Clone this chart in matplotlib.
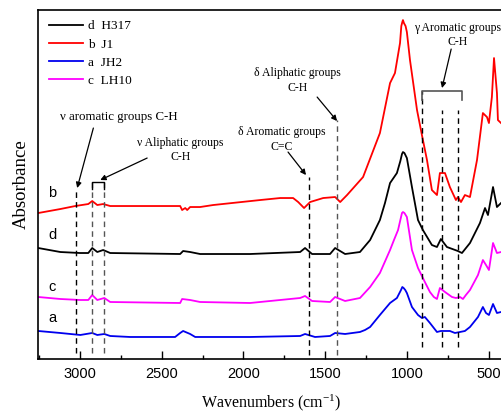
import matplotlib.pyplot as plt
from matplotlib.ticker import MultipleLocator, NullLocator

plt.rcParams['mathtext.fontset'] = 'custom'
plt.rcParams['mathtext.rm'] = 'Liberation Serif'
plt.rcParams['mathtext.it'] = 'Liberation Serif:italic'

# FTIR spectra, stacked with offsets (absorbance in arbitrary units)
wn_b = [3255, 3120, 3029, 2949, 2925, 2894, 2858, 2815, 2570, 2387, 2375, 2356, 2344, 2326,
        2265, 2185, 1897, 1775, 1696, 1665, 1629, 1592, 1512, 1439, 1408, 1366, 1268, 1165,
        1103, 1073, 1042, 1034, 1028, 1024, 1018, 1008, 1000, 981, 938, 908, 877, 847, 816,
        798, 767, 737, 700, 688, 669, 645, 614, 571, 535, 510, 498, 480, 467, 449, 443, 424]
ab_b = [1.46, 1.50, 1.53, 1.55, 1.58, 1.54, 1.55, 1.53, 1.53, 1.53, 1.49, 1.51, 1.49, 1.52,
        1.52, 1.54, 1.59, 1.61, 1.61, 1.57, 1.51, 1.57, 1.61, 1.62, 1.57, 1.64, 1.82, 2.26,
        2.76, 2.86, 3.16, 3.33, 3.37, 3.39, 3.36, 3.33, 3.27, 2.99, 2.49, 2.24, 1.99, 1.69,
        1.64, 1.86, 1.86, 1.72, 1.59, 1.62, 1.57, 1.64, 1.62, 1.99, 2.46, 2.42, 2.36, 2.62,
        3.01, 2.66, 2.39, 2.36]

wn_d = [3255, 3120, 3000, 2949, 2925, 2894, 2858, 2815, 2387, 2369, 2326, 2265, 1959, 1653,
        1623, 1580, 1470, 1439, 1378, 1287, 1225, 1165, 1134, 1103, 1061, 1040, 1030, 1024,
        1015, 1000, 969, 932, 902, 847, 816, 792, 755, 688, 663, 614, 553, 522, 504, 473,
        449, 424]
ab_d = [1.11, 1.07, 1.06, 1.06, 1.11, 1.07, 1.09, 1.06, 1.05, 1.08, 1.07, 1.05, 1.05, 1.07,
        1.11, 1.05, 1.05, 1.11, 1.05, 1.07, 1.19, 1.39, 1.56, 1.76, 1.86, 1.98, 2.05, 2.07,
        2.06, 2.01, 1.72, 1.39, 1.29, 1.14, 1.12, 1.20, 1.12, 1.08, 1.06, 1.16, 1.36, 1.51,
        1.44, 1.72, 1.52, 1.56]

wn_c = [3255, 3120, 2998, 2949, 2925, 2894, 2851, 2815, 2387, 2375, 2326, 2265, 1959, 1653,
        1623, 1580, 1470, 1439, 1378, 1287, 1225, 1165, 1103, 1079, 1054, 1040, 1030, 1024,
        1015, 1000, 969, 932, 890, 859, 835, 816, 798, 767, 724, 700, 675, 657, 639, 614,
        565, 535, 516, 498, 473, 449, 424]
ab_c = [0.62, 0.60, 0.59, 0.59, 0.64, 0.59, 0.61, 0.57, 0.56, 0.60, 0.59, 0.57, 0.56, 0.61,
        0.63, 0.58, 0.57, 0.62, 0.58, 0.61, 0.72, 0.86, 1.09, 1.19, 1.29, 1.39, 1.46, 1.47,
        1.46, 1.42, 1.09, 0.91, 0.77, 0.67, 0.62, 0.60, 0.71, 0.67, 0.62, 0.61, 0.62, 0.60,
        0.64, 0.69, 0.84, 0.99, 0.94, 0.89, 1.16, 1.06, 1.07]

wn_a = [3255, 3120, 2998, 2925, 2894, 2851, 2815, 2693, 2418, 2387, 2369, 2326, 2295, 1959,
        1653, 1623, 1562, 1470, 1439, 1378, 1287, 1256, 1225, 1165, 1103, 1061, 1036, 1028,
        1020, 1010, 1000, 969, 932, 908, 890, 859, 816, 792, 737, 706, 675, 645, 614, 565,
        535, 516, 498, 473, 449, 424]
ab_a = [0.28, 0.26, 0.24, 0.26, 0.24, 0.25, 0.23, 0.22, 0.22, 0.26, 0.28, 0.25, 0.22, 0.22,
        0.23, 0.25, 0.22, 0.23, 0.26, 0.25, 0.27, 0.29, 0.32, 0.44, 0.56, 0.61, 0.69, 0.72,
        0.71, 0.69, 0.66, 0.52, 0.44, 0.41, 0.42, 0.36, 0.27, 0.28, 0.28, 0.26, 0.27, 0.28,
        0.32, 0.42, 0.52, 0.46, 0.44, 0.55, 0.46, 0.47]

# band markers: wavenumber, extent of dashed line, colour
band_wn = [3022, 2927, 2853, 1598, 1428, 910, 788, 686]
band_top = [1.69, 1.77, 1.77, 1.82, 2.39, 2.68, 2.49, 2.49]
band_bot = [0.06, 0.06, 0.06, 0.04, 0.04, 0.12, 0.12, 0.12]
band_col = ['black', '#555555', '#555555', 'black', '#555555', 'black', 'black', 'black']

serif = 'Liberation Serif'
sans = 'Liberation Sans'

fig = plt.figure(figsize=(5.01, 4.13), dpi=100)
ax = fig.add_axes([0.0764, 0.1308, 0.9315, 0.846])

ax.plot(wn_d, ab_d, color='black', lw=1.3, label='d  H317')
ax.plot(wn_b, ab_b, color='red', lw=1.3, label='b  J1')
ax.plot(wn_a, ab_a, color='#0000ee', lw=1.3, label='a  JH2')
ax.plot(wn_c, ab_c, color='magenta', lw=1.3, label='c  LH10')

for w, t, b, c in zip(band_wn, band_top, band_bot, band_col):
    ax.plot([w, w], [b, t], color=c, lw=1.0, ls=(0, (4, 3)))

# brackets
ax.plot([2927, 2927, 2853, 2853], [1.70, 1.77, 1.77, 1.70], color='black', lw=1.0)
ax.plot([910, 910, 662, 662], [2.59, 2.68, 2.68, 2.59], color='#555555', lw=1.2)

arrow = dict(arrowstyle='-|>', color='black', lw=0.9, mutation_scale=8, shrinkA=0, shrinkB=0)
ax.annotate('', xy=(3017, 1.71), xytext=(2918, 2.31), arrowprops=arrow)
ax.annotate('', xy=(2876, 1.79), xytext=(2589, 2.01), arrowprops=arrow)
ax.annotate('', xy=(1617, 1.84), xytext=(1727, 2.07), arrowprops=arrow)
ax.annotate('', xy=(1427, 2.38), xytext=(1549, 2.62), arrowprops=arrow)
ax.annotate('', xy=(785, 2.71), xytext=(729, 3.10), arrowprops=arrow)

tkw = dict(family=serif, fontsize=8.5, ha='center', va='center', linespacing=1.25)
ax.text(2760, 2.42, 'ν aromatic groups C-H', family=serif, fontsize=9.3, ha='center', va='center')
ax.text(2386, 2.09, 'ν Aliphatic groups\nC-H', **tkw)
ax.text(1763, 2.195, 'δ Aromatic groups\nC=C', **tkw)
ax.text(1671, 2.785, 'δ Aliphatic groups\nC-H', **tkw)
ax.text(692, 3.24, 'γ Aromatic groups\nC-H', **tkw)

for lab, y in zip(['b', 'd', 'c', 'a'], [1.66, 1.24, 0.72, 0.41]):
    ax.text(3169, y, lab, family=sans, fontsize=10.5, ha='center', va='center')

ax.set_xlim(3255, 400)
ax.set_ylim(0, 3.495)
ax.xaxis.set_major_locator(MultipleLocator(500))
ax.xaxis.set_minor_locator(MultipleLocator(250))
ax.yaxis.set_major_locator(NullLocator())
ax.tick_params(axis='x', which='major', direction='in', length=6, width=1, labelsize=10.5, pad=6)
ax.tick_params(axis='x', which='minor', direction='in', length=3, width=1)
for lbl in ax.get_xticklabels():
    lbl.set_family(sans)
for sp in ax.spines.values():
    sp.set_linewidth(1.2)

ax.set_xlabel('Wavenumbers (cm$^{-1}$)', family=serif, fontsize=11.5, labelpad=8)
ax.set_ylabel('Absorbance', family=serif, fontsize=13.5, labelpad=6)

ax.legend(loc='upper left', bbox_to_anchor=(0.0, 1.0), frameon=False, handlelength=2.6,
          handletextpad=0.4, labelspacing=0.45, prop={'family': serif, 'size': 9.5},
          borderaxespad=0.4)

fig.savefig('out.png', dpi=100)
